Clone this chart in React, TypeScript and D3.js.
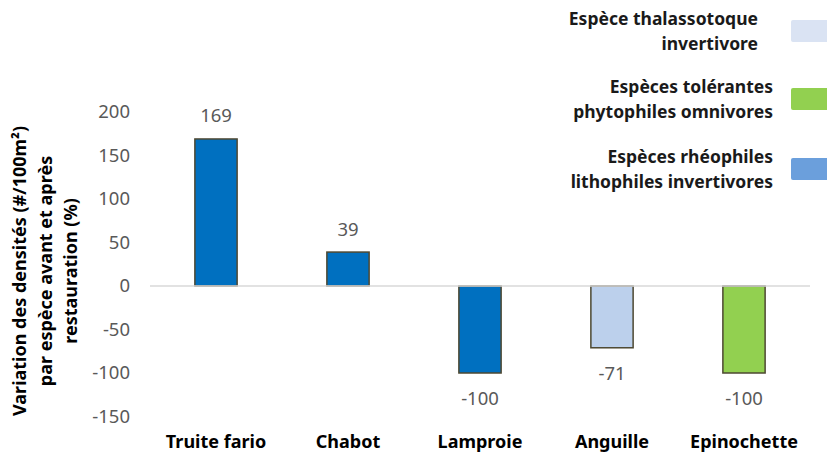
import React from "react";
import * as d3 from "d3";

const categories = ["Truite fario", "Chabot", "Lamproie", "Anguille", "Epinochette"];
const values = [169, 39, -100, -71, -100];
const groups = ["rheo", "rheo", "rheo", "thala", "tol"];
const yTicks = [200, 150, 100, 50, 0, -50, -100, -150];

const legendItems = [
  { key: "thala", lines: ["Espèce thalassotoque", "invertivore"], swatch: "#dae3f3" },
  { key: "tol", lines: ["Espèces tolérantes", "phytophiles omnivores"], swatch: "#92d050" },
  { key: "rheo", lines: ["Espèces rhéophiles", "lithophiles invertivores"], swatch: "#6b9fdc" },
];

const barColor: Record<string, string> = {
  rheo: "#0070c0",
  thala: "#bcd0ec",
  tol: "#92d050",
};

const W = 827;
const H = 454;
const font = "'Noto Sans', sans-serif";

export default function App() {
  const x = d3
    .scaleBand<string>()
    .domain(categories)
    .range([150, 810])
    .paddingInner(0.68)
    .paddingOuter(0.34);
  const y = d3.scaleLinear().domain([-150, 200]).range([416.5, 112]);

  return (
    <svg width={W} height={H} style={{ position: "absolute", left: 0, top: 0, fontFamily: font }}>
      <rect width={W} height={H} fill="#fff" />
      {/* y tick labels */}
      {yTicks.map((t) => (
        <text key={t} x={130} y={y(t)} dy="0.35em" textAnchor="end" fontSize={18.5} fill="#595959">
          {t}
        </text>
      ))}
      {/* y title */}
      <g transform="translate(0,271) rotate(-90)" fontWeight="bold" fontSize={18} fill="#000" textAnchor="middle">
        <text x={0} y={26}>Variation des densités (#/100m²)</text>
        <text x={0} y={52}>par espèce avant et après</text>
        <text x={0} y={77}>restauration (%)</text>
      </g>
      {/* bars */}
      {categories.map((c, i) => {
        const v = values[i];
        const top = y(Math.max(0, v));
        const bot = y(Math.min(0, v));
        return (
          <rect
            key={c}
            x={x(c)}
            y={top}
            width={x.bandwidth()}
            height={bot - top}
            fill={barColor[groups[i]]}
            stroke="#4d4832"
            strokeWidth={1.5}
          />
        );
      })}
      {/* zero line */}
      <line x1={150} x2={810} y1={y(0)} y2={y(0)} stroke="#d9d9d9" strokeWidth={1.5} />
      {/* value labels */}
      {categories.map((c, i) => {
        const v = values[i];
        const cx = (x(c) ?? 0) + x.bandwidth() / 2;
        const ly = v >= 0 ? y(v) - 23 : y(v) + 26;
        return (
          <text key={c} x={cx} y={ly} dy="0.35em" textAnchor="middle" fontSize={18.5} fill="#595959">
            {v}
          </text>
        );
      })}
      {/* category labels */}
      {categories.map((c) => (
        <text
          key={c}
          x={(x(c) ?? 0) + x.bandwidth() / 2}
          y={448}
          textAnchor="middle"
          fontSize={18}
          fontWeight="bold"
          fill="#000"
        >
          {c}
        </text>
      ))}
      {/* legend */}
      {legendItems.map((l, i) => {
        const cy = [31, 99, 169][i];
        const rx = i === 0 ? 758 : 773;
        return (
          <g key={l.key}>
            <text x={rx} y={cy - 12} dy="0.35em" textAnchor="end" fontSize={17.5} fontWeight="bold" fill="#1a1a1a">
              {l.lines[0]}
            </text>
            <text x={rx} y={cy + 13} dy="0.35em" textAnchor="end" fontSize={17.5} fontWeight="bold" fill="#1a1a1a">
              {l.lines[1]}
            </text>
            <rect x={791} y={cy - 11} width={40} height={22} rx={2} fill={l.swatch} />
          </g>
        );
      })}
    </svg>
  );
}
